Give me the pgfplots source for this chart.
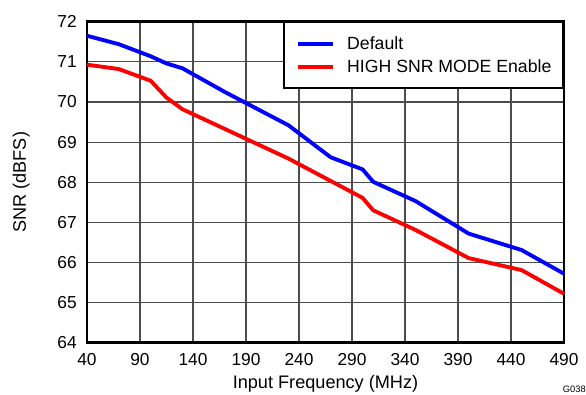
\documentclass[border=0pt]{standalone}
\usepackage{pgfplots}
\pgfplotsset{compat=1.18}
\usepackage{fontspec}
\setmainfont{Liberation Sans}
\usetikzlibrary{calc}
\begin{document}
\begin{tikzpicture}
\begin{axis}[
  name=ax,
  scale only axis,
  width=357.75pt, height=240.75pt,
  xmin=40, xmax=490, ymin=64, ymax=72,
  xtick={40,90,...,490}, ytick={64,65,...,72},
  grid=major,
  major grid style={draw=black!70, line width=0.8pt},
  axis line style={line width=2pt},
  tick style={draw=none},
  /pgf/number format/assume math mode=true,
  ticklabel style={font=\fontsize{13}{15}\selectfont},
  xticklabel style={anchor=north, inner sep=0pt, yshift=-7.7pt},
  yticklabel style={anchor=east, inner sep=0pt, xshift=-7.5pt},
  xlabel={Input Frequency (MHz)},
  ylabel={SNR (dBFS)},
  label style={font=\fontsize{13.6}{15}\selectfont, inner sep=0pt},
  xlabel style={at={(axis description cs:0.5,-0.1412)}, anchor=base},
  ylabel style={at={(axis description cs:-0.1279,0.5)}, anchor=base},
  legend cell align=left,
  legend style={at={(rel axis cs:1,1)}, anchor=north east, draw=black, line width=1.2pt,
    font=\fontsize{13.25}{15}\selectfont, inner xsep=5pt, inner ysep=8.5pt,
    row sep=2pt},
  legend image code/.code={\draw[#1, line width=2.9pt] (4pt,0pt) -- (30.25pt,0pt); \path (0pt,0pt) (37.5pt,0pt);},
  every axis plot/.append style={line width=2.9pt, line join=round},
  clip=false,
]
\addplot[blue] coordinates {
(40,71.65) (70,71.44) (100,71.14) (115,70.96) (130,70.84) (170,70.25) (230,69.42)
(270,68.62) (300,68.32) (310,68.01) (350,67.53) (400,66.72) (450,66.31) (490,65.72)};
\addlegendentry{\makebox[155pt][l]{Default}}
\addplot[red] coordinates {
(40,70.93) (70,70.82) (100,70.53) (115,70.11) (130,69.82) (230,68.59)
(300,67.61) (310,67.30) (350,66.81) (400,66.11) (450,65.81) (490,65.22)};
\addlegendentry{\makebox[155pt][l]{HIGH SNR MODE Enable}}
\end{axis}
\node[anchor=base east, font=\fontsize{7}{8}\selectfont, inner sep=0pt] at ($(ax.south east)+(16.5pt,-37.7pt)$) {G038};
\path ($(ax.south west)+(-65.25pt,-38.5pt)$) rectangle ($(ax.north east)+(16.5pt,16.3pt)$);
\end{tikzpicture}
\end{document}
